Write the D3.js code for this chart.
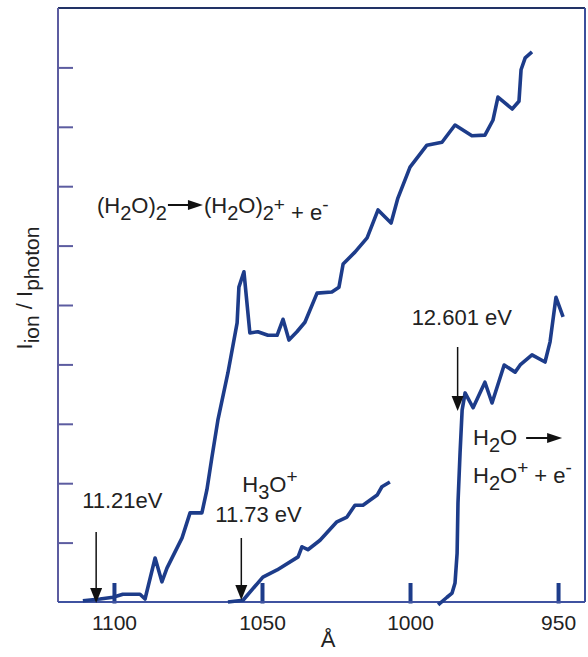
<!DOCTYPE html>
<html>
<head>
<meta charset="utf-8">
<script src="https://cdn.jsdelivr.net/npm/d3@7"></script>
<style>
  body { margin: 0; background: #fff; }
  text { font-family: "Liberation Sans", Arial, sans-serif; fill: #222; }
</style>
</head>
<body>
<script>
// Datos (longitud de onda en Å, intensidad relativa)
const dimerWl = [1110.5, 1104.7, 1100.3, 1097.0, 1091.2, 1089.5, 1086.1, 1083.8, 1082.1, 1077.0, 1074.3, 1070.3, 1068.6, 1066.9, 1064.9, 1061.5, 1058.4, 1057.8, 1056.1, 1054.1, 1051.4, 1048.0, 1044.9, 1042.9, 1040.9, 1038.2, 1035.5, 1031.4, 1026.4, 1024.0, 1022.6, 1018.6, 1014.5, 1010.8, 1006.4, 1004.1, 1000.0, 994.3, 989.2, 984.8, 979.1, 974.7, 972.0, 970.3, 965.5, 963.2, 962.5, 961.1, 958.8];
const dimerI = [0.02, 0.05, 0.08, 0.13, 0.13, 0.05, 0.74, 0.34, 0.57, 1.08, 1.50, 1.50, 1.89, 2.44, 3.06, 3.86, 4.70, 5.30, 5.56, 4.53, 4.55, 4.49, 4.49, 4.76, 4.41, 4.55, 4.71, 5.20, 5.22, 5.30, 5.69, 5.89, 6.13, 6.60, 6.38, 6.80, 7.32, 7.69, 7.74, 8.03, 7.85, 7.86, 8.11, 8.50, 8.30, 8.43, 8.96, 9.16, 9.26];

const h3oWl = [1061.5, 1056.4, 1049.7, 1044.9, 1037.8, 1036.5, 1034.5, 1030.4, 1024.7, 1021.3, 1018.6, 1015.9, 1011.1, 1009.5, 1006.8];
const h3oI = [0.00, 0.03, 0.42, 0.54, 0.76, 0.93, 0.88, 1.04, 1.35, 1.43, 1.63, 1.63, 1.80, 1.94, 2.02];

const h2oWl = [990.5, 987.5, 985.8, 984.8, 984.1, 983.8, 983.1, 982.4, 981.4, 978.7, 974.7, 972.3, 968.2, 964.5, 962.8, 958.8, 954.4, 952.7, 950.7, 948.3];
const h2oI = [-0.05, 0.08, 0.15, 0.32, 0.82, 1.67, 2.51, 3.23, 3.52, 3.27, 3.70, 3.35, 3.99, 3.87, 3.99, 4.16, 4.04, 4.38, 5.13, 4.80];

const xTicks = [1100, 1050, 1000, 950];
const yTicks = [1, 2, 3, 4, 5, 6, 7, 8, 9];
const umbralesEV = [11.21, 11.73, 12.601];   // energias de umbral

const W = 588, H = 657;
const m = { top: 8, right: 3, bottom: 55, left: 58 };
const iw = W - m.left - m.right;
const ih = H - m.top - m.bottom;

const azul = '#1d3c8a';
const lila = '#5c5ca0';

var svg = d3.select('body')
    .append('svg')
    .attr('width', W)
    .attr('height', H);

var g = svg.append('g')
    .attr('transform', `translate(${m.left},${m.top})`);

// Escalas
const x = d3.scaleLinear().domain([1118.9, 940.9]).range([0, iw]);
const y = d3.scaleLinear().domain([0, 10]).range([ih, 0]);

// Marco
g.append('line').attr('x1', 0).attr('x2', iw).attr('y1', 0).attr('y2', 0)
    .attr('stroke', '#223366').attr('stroke-width', 2);
g.append('line').attr('x1', iw).attr('x2', iw).attr('y1', 0).attr('y2', ih)
    .attr('stroke', '#3b4f9c').attr('stroke-width', 2);
g.append('line').attr('x1', 0).attr('x2', 0).attr('y1', 0).attr('y2', ih)
    .attr('stroke', lila).attr('stroke-width', 2);

// Eje y (solo marcas)
var ejeY = g.append('g')
    .call(d3.axisLeft(y).tickValues(yTicks).tickSize(-15).tickFormat(''));
ejeY.select('.domain').remove();
ejeY.selectAll('line').attr('stroke', lila).attr('stroke-width', 2);

// Eje x
var ejeX = g.append('g')
    .attr('transform', `translate(0,${ih})`)
    .call(d3.axisBottom(x).tickValues(xTicks).tickSize(-19).tickPadding(13).tickFormat(d3.format('d')));
ejeX.select('.domain').remove();
ejeX.selectAll('line').attr('stroke', azul).attr('stroke-width', 4).attr('y1', 1.5);
ejeX.selectAll('text')
    .style('font-family', '"Liberation Sans", Arial, sans-serif')
    .style('font-size', '21px')
    .attr('fill', '#222');

g.append('line').attr('x1', 0).attr('x2', iw).attr('y1', ih).attr('y2', ih)
    .attr('stroke', '#3f52a0').attr('stroke-width', 2);

// Curvas
const linea = d3.line().x((d) => x(d[0])).y((d) => y(d[1]));

[[dimerWl, dimerI], [h3oWl, h3oI], [h2oWl, h2oI]].forEach(([wl, val]) => {
    g.append('path')
        .datum(d3.zip(wl, val))
        .attr('d', linea)
        .attr('fill', 'none')
        .attr('stroke', azul)
        .attr('stroke-width', 3.6)
        .attr('stroke-linejoin', 'round');
});

// Flechas de umbral
function flechaAbajo(px, y0, y1) {
    g.append('line').attr('x1', px).attr('x2', px).attr('y1', y0).attr('y2', y1 - 14)
        .attr('stroke', '#111').attr('stroke-width', 1.5);
    g.append('path')
        .attr('d', `M${px - 6},${y1 - 15}L${px + 6},${y1 - 15}L${px},${y1}Z`)
        .attr('fill', '#111');
}
function flechaDerecha(x0, x1, py) {
    g.append('line').attr('x1', x0).attr('x2', x1 - 12).attr('y1', py).attr('y2', py)
        .attr('stroke', '#111').attr('stroke-width', 2);
    g.append('path')
        .attr('d', `M${x1 - 15},${py - 5}L${x1},${py}L${x1 - 15},${py + 5}Z`)
        .attr('fill', '#111');
}

const wl = umbralesEV.map((e) => 12398.4 / e);
flechaAbajo(x(wl[0]), 524, 595);
flechaAbajo(x(wl[1]), 530, 592);
flechaAbajo(x(wl[2]), 339, 403);

// Textos con subindices
function texto(px, py, partes) {
    var t = g.append('text').attr('x', px).attr('y', py).style('font-size', '22px');
    partes.forEach(([s, tipo]) => {
        var ts = t.append('tspan').text(s);
        if (tipo === 'sub') ts.attr('dy', 7).style('font-size', '20px');
        if (tipo === 'sup') ts.attr('dy', -9).style('font-size', '19px');
        if (tipo === 'back') ts.attr('dy', -7);
        if (tipo === 'down') ts.attr('dy', 9);
    });
    return t;
}

texto(x(wl[0]) - 14, 500, [['11.21eV', '']]);
texto(x(wl[1]) - 26, 514, [['11.73 eV', '']]);
texto(x(wl[1]) + 1, 484, [['H', ''], ['3', 'sub'], ['O', 'back'], ['+', 'sup']]);
texto(x(wl[2]) - 46, 317, [['12.601 eV', '']]);

var t1 = texto(39, 205, [['(H', ''], ['2', 'sub'], ['O)', 'back'], ['2', 'sub']]);
var fin1 = 39 + t1.node().getComputedTextLength();
flechaDerecha(fin1 + 1, fin1 + 36, 197);
texto(fin1 + 37, 205, [['(H', ''], ['2', 'sub'], ['O)', 'back'], ['2', 'sub'], ['+', 'sup'], [' + e', 'down'], ['-', 'sup']]);

var t2 = texto(415, 437, [['H', ''], ['2', 'sub'], ['O', 'back']]);
var fin2 = 415 + t2.node().getComputedTextLength();
flechaDerecha(fin2 + 9, fin2 + 45, 430);
texto(415, 475, [['H', ''], ['2', 'sub'], ['O', 'back'], ['+', 'sup'], [' + e', 'down'], ['-', 'sup']]);

// Titulos de ejes
svg.append('text')
    .attr('x', 328)
    .attr('y', 647)
    .attr('text-anchor', 'middle')
    .style('font-size', '22px')
    .text('Å');

var ty = svg.append('text')
    .attr('transform', 'translate(32,288) rotate(-90)')
    .attr('text-anchor', 'middle')
    .style('font-size', '22px');
ty.append('tspan').text('I');
ty.append('tspan').text('ion').attr('dy', 7).style('font-size', '21px');
ty.append('tspan').text(' / I').attr('dy', -7);
ty.append('tspan').text('photon').attr('dy', 7).style('font-size', '21px');
</script>
</body>
</html>
